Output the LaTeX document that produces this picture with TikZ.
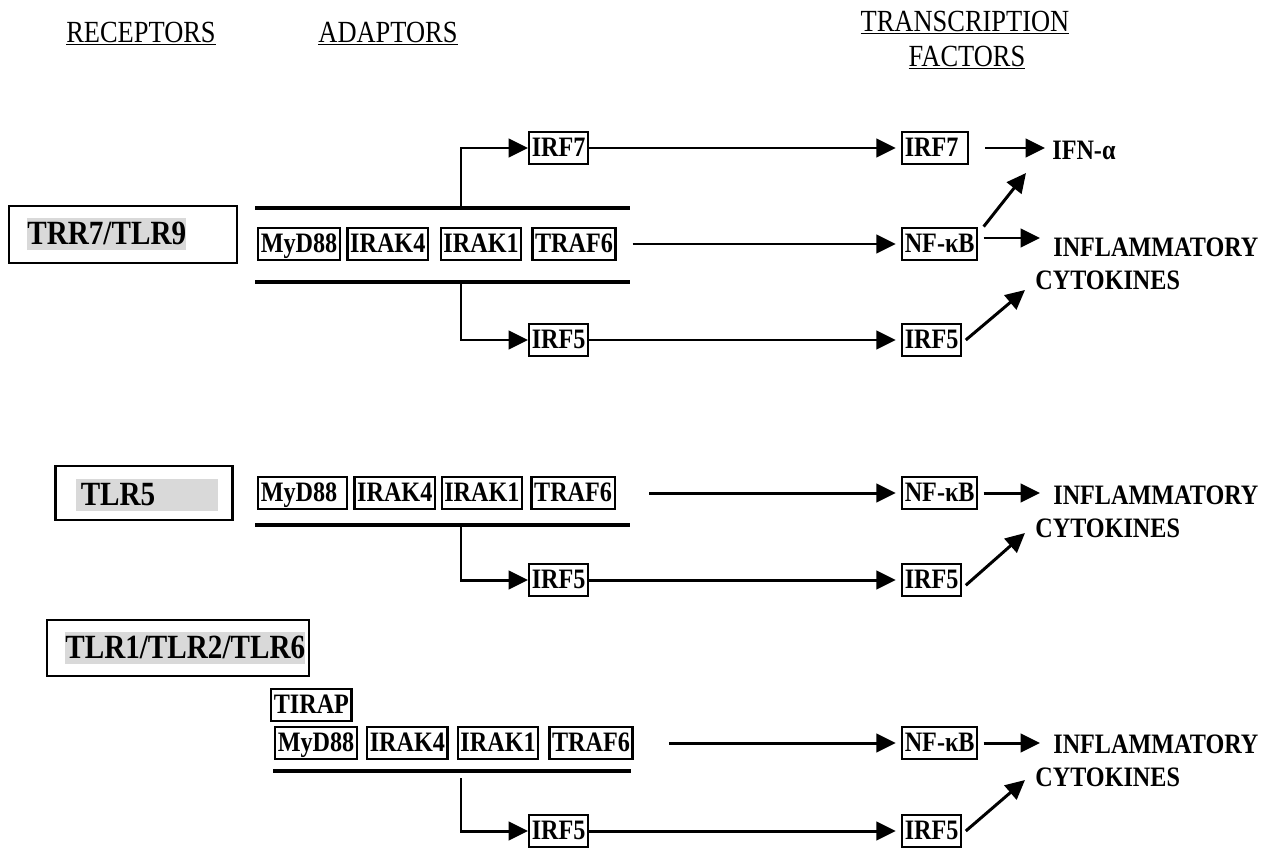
\documentclass[tikz,border=0pt]{standalone}
\usepackage{fontspec}
\setmainfont[FakeStretch=0.86]{Liberation Serif}
\usetikzlibrary{arrows.meta,positioning}

\begin{document}
\begin{tikzpicture}[
      x=0.02cm, y=-0.02cm,
      Prot/.style={draw, line width=1.3pt, inner sep=1.5pt, minimum height=18.5pt,
        font=\bfseries\fontsize{16}{18}\selectfont, text height=11.5pt, text depth=1.5pt},
      Recep/.style={draw, line width=1.6pt},
      Hilite/.style={fill=black!15, inner sep=0pt, align=left, text height=15.5pt, text depth=3pt,
        font=\bfseries\fontsize{19.3}{21}\selectfont},
      Head/.style={font=\fontsize{17.5}{20}\selectfont, align=center},
      Out/.style={inner sep=0pt, font=\bfseries\fontsize{16}{18}\selectfont},
      Mem/.style={line width=1.9pt},
      Arr/.style={line width=1.7pt, -{Triangle[length=11pt,width=10.5pt]}},
      ]
      \useasboundingbox (0,0) rectangle (1276,849);

      \node[Head, anchor=base] (hrec) at (141,42) {\underline{RECEPTORS}};
      \node[Head, anchor=base] (hada) at (388,42) {\underline{ADAPTORS}};
      \node[Head, anchor=base] (htf1) at (965,31) {\underline{TRANSCRIPTION}};
      \node[Head, anchor=base] (htf2) at (967,66) {\underline{FACTORS}};

      % TRR7/TLR9
      \node[Recep, minimum width=4.56cm, minimum height=1.14cm] (R1) at (123,234.5) {};
      \node[Hilite, anchor=west] (T1) at (27,234) {TRR7/TLR9};
      \draw[Mem] (255,208) -- (630,208);
      \draw[Mem] (255,282) -- (630,282);
      \node[Prot, anchor=west] (my1) at (257,244) {MyD88};
      \node[Prot, right=3pt of my1] (ka1) {IRAK4};
      \node[Prot, right=6pt of ka1] (kb1) {IRAK1};
      \node[Prot, right=5pt of kb1] (tr1) {TRAF6};
      \node[Prot, anchor=west] (irf7a) at (528,148) {IRF7};
      \node[Prot, anchor=west] (irf7b) at (901,148) {IRF7\kern4pt};
      \node[Prot, anchor=west] (nf1) at (901,244) {NF-κB};
      \node[Prot, anchor=west] (irf5a) at (528,340) {IRF5};
      \node[Prot, anchor=west] (irf5b) at (901,340) {IRF5};
      \node[Out, anchor=base west] (ifn) at (1052,159) {IFN-α};
      \node[Out, anchor=base west] (inf1) at (1053,256) {INFLAMMATORY};
      \node[Out, anchor=base west] (cyt1) at (1035,289) {CYTOKINES};
      \coordinate (up1) at (461,208);
      \coordinate (dn1) at (461,282);
      \coordinate (e1) at (1040,238);
      \coordinate (f1) at (1026,173);
      \coordinate (g1) at (1025,290);
      \draw[Arr] (up1) |- (irf7a);
      \draw[Arr] (dn1) |- (irf5a);
      \draw[Arr, shorten >=3pt] (irf7a) -- (irf7b);
      \draw[Arr, shorten <=9pt, shorten >=3pt] (tr1) -- (nf1);
      \draw[Arr, shorten >=3pt] (irf5a) -- (irf5b);
      \draw[Arr, shorten <=9pt, shorten >=4pt] (irf7b) -- (ifn.west |- irf7b);
      \draw[Arr, shorten <=3pt] (nf1.east |- e1) -- (e1);
      \draw[Arr] ([xshift=3pt]nf1.north east) -- (f1);
      \draw[Arr] ([xshift=2pt]irf5b.east) -- (g1);

      % TLR5
      \node[Recep, minimum width=3.54cm, minimum height=1.08cm] (R2) at (144,493) {};
      \node[Hilite, text width=2.86cm] (T2) at (147,495) {\hspace{3pt}TLR5};
      \draw[Mem] (255,525) -- (630,525);
      \node[Prot, anchor=west] (my2) at (257,493) {MyD88\kern4pt};
      \node[Prot, right=3pt of my2] (ka2) {IRAK4};
      \node[Prot, right=2.5pt of ka2] (kb2) {IRAK1};
      \node[Prot, right=4pt of kb2] (tr2) {TRAF6};
      \node[Prot, anchor=west] (nf2) at (901,493) {NF-κB};
      \node[Prot, anchor=west] (irf5c) at (528,580) {IRF5};
      \node[Prot, anchor=west] (irf5d) at (901,580) {IRF5};
      \node[Out, anchor=base west] (inf2) at (1053,504) {INFLAMMATORY};
      \node[Out, anchor=base west] (cyt2) at (1035,537) {CYTOKINES};
      \coordinate (dn2) at (461,525);
      \coordinate (e2) at (1040,493);
      \coordinate (g2) at (1025,533);
      \draw[Arr] (dn2) |- (irf5c);
      \draw[Arr, shorten <=19pt, shorten >=3pt] (tr2) -- (nf2.west |- tr2);
      \draw[Arr, shorten >=3pt] (irf5c) -- (irf5d);
      \draw[Arr, shorten <=3pt] (nf2.east) -- (e2);
      \draw[Arr] ([xshift=2pt,yshift=-3pt]irf5d.east) -- (g2);

      % TLR1/TLR2/TLR6
      \node[Recep, minimum width=5.24cm, minimum height=1.12cm] (R3) at (178,648) {};
      \node[Hilite, anchor=west] (T3) at (65,648) {TLR1/TLR2/TLR6};
      \node[Prot, anchor=west] (tir) at (270,705) {TIRAP};
      \draw[Mem] (273,771) -- (631,771);
      \node[Prot, anchor=west] (my3) at (274,743) {MyD88};
      \node[Prot, right=4.5pt of my3] (ka3) {IRAK4};
      \node[Prot, right=4.5pt of ka3] (kb3) {IRAK1};
      \node[Prot, right=5pt of kb3] (tr3) {TRAF6};
      \node[Prot, anchor=west] (nf3) at (901,743) {NF-κB};
      \node[Prot, anchor=west] (irf5e) at (528,831) {IRF5};
      \node[Prot, anchor=west] (irf5f) at (901,831) {IRF5};
      \node[Out, anchor=base west] (inf3) at (1053,753) {INFLAMMATORY};
      \node[Out, anchor=base west] (cyt3) at (1035,786) {CYTOKINES};
      \coordinate (dn3) at (461,778);
      \coordinate (e3) at (1040,743);
      \coordinate (g3) at (1025,780);
      \draw[Arr] (dn3) |- (irf5e);
      \draw[Arr, shorten <=20pt, shorten >=3pt] (tr3) -- (nf3);
      \draw[Arr, shorten >=3pt] (irf5e) -- (irf5f);
      \draw[Arr, shorten <=3pt] (nf3.east) -- (e3);
      \draw[Arr] ([xshift=2pt]irf5f.east) -- (g3);
    \end{tikzpicture}
\end{document}
